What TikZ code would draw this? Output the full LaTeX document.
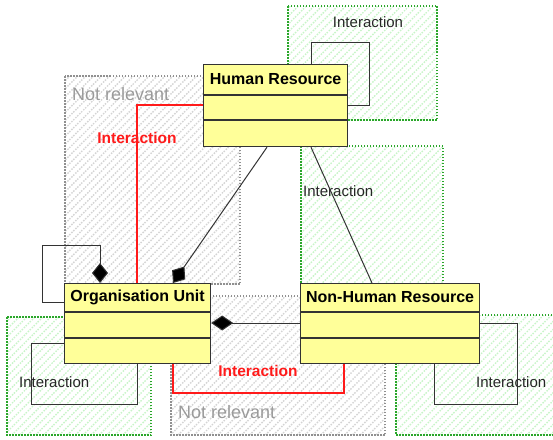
\documentclass[tikz,border=0pt]{standalone}
\usepackage{fontspec}
\setmainfont{Liberation Sans}
\usetikzlibrary{patterns.meta,arrows.meta,calc}
\definecolor{boxfill}{HTML}{FFFF99}
\definecolor{boxline}{HTML}{333333}
\definecolor{grnborder}{HTML}{2AA62A}
\definecolor{grnhatch}{HTML}{C8F4C8}
\definecolor{gryborder}{HTML}{909090}
\definecolor{gryhatch}{HTML}{D4D4D4}
\definecolor{grytext}{HTML}{9A9A9A}
\definecolor{redline}{HTML}{FF1A1A}
\tikzset{
  greenregion/.style={draw=grnborder, line width=1.4pt, dash pattern=on 1.5pt off 1.5pt,
     pattern={Lines[angle=45,distance=5.6pt,line width=1.4pt]}, pattern color=grnhatch},
  grayregion/.style={draw=gryborder, line width=1.2pt, dash pattern=on 1.5pt off 1.5pt,
     pattern={Lines[angle=45,distance=5.6pt,line width=1.4pt]}, pattern color=gryhatch},
  clsbox/.style={draw=boxline, fill=boxfill, line width=1.2pt, rectangle, inner sep=0pt, anchor=north west},
  clstitle/.style={font=\fontsize{16}{19}\selectfont\bfseries, inner sep=0pt, text=black},
  regionlabel/.style={font=\fontsize{15}{18}\selectfont, inner sep=0pt, text=black!85},
  notrel/.style={font=\fontsize{18}{21}\selectfont, inner sep=0pt, text=grytext},
  redlabel/.style={font=\fontsize{15.5}{18}\selectfont\bfseries, inner sep=0pt, text=redline},
  conn/.style={draw=boxline, line width=1pt},
  redconn/.style={draw=redline, line width=1.1pt},
  comp/.style={conn, -{Diamond[length=20pt,width=16pt,fill=black]}},
}
\begin{document}
\begin{tikzpicture}[x=1pt,y=-1pt]
\clip (0,0) rectangle (553,439);
\useasboundingbox (0,0) rectangle (553,439);
% regions
\path[grayregion] (65,76) rectangle (240,284);
\path[greenregion] (288,6) rectangle (437,120);
\path[greenregion] (301,146) rectangle (443,300);
\path[grayregion] (171,296) rectangle (385,435);
\path[greenregion] (7,317) rectangle (151,435);
\path[greenregion] (396,315) rectangle (570,435);
\node[notrel, anchor=west] (nr1) at (72,94) {Not relevant};
\node[notrel, anchor=west] (nr2) at (178,412) {Not relevant};
\node[regionlabel] (ia1) at (368,22) {Interaction};
\node[regionlabel, anchor=west] (ia2) at (303,191) {Interaction};
\node[regionlabel, anchor=west] (ia3) at (19,382) {Interaction};
\node[regionlabel, anchor=west] (ia4) at (476,382) {Interaction};
\node[redlabel] (ri1) at (137,138) {Interaction};
\node[redlabel] (ri2) at (258,371) {Interaction};
% class boxes (shapes first for names)
\node[clsbox, minimum width=144pt, minimum height=82pt] (hr) at (203,64) {};
\node[clsbox, minimum width=146pt, minimum height=80pt] (ou) at (64,283) {};
\node[clsbox, minimum width=179pt, minimum height=80pt] (nhr) at (300,283) {};
% coordinates
\coordinate (la) at (311,42);
\coordinate (lb) at (369,105);
\coordinate (r1) at (137,105);
\coordinate (c1a) at (267,0);
\coordinate (c1b) at (173,0);
\coordinate (c2a) at (311,0);
\coordinate (c2b) at (372,0);
\coordinate (oa) at (42,302);
\coordinate (ob) at (100,245);
\coordinate (oc) at (31,343);
\coordinate (od) at (137,404);
\coordinate (re) at (173,393);
\coordinate (rf) at (344,393);
\coordinate (cm) at (0,323);
\coordinate (na) at (517,323);
\coordinate (nb) at (434,404);
% connectors
\draw[conn] (hr.north -| la) -- (la) -| (lb) -- (lb -| hr.east);
\draw[redconn] (r1 -| hr.west) -- (r1) -- (r1 |- ou.north);
\draw[comp] (hr.south -| c1a) -- (ou.north -| c1b);
\draw[conn] (hr.south -| c2a) -- (nhr.north -| c2b);
\draw[comp] (oa -| ou.west) -- (oa) |- (ob) -- (ob |- ou.north);
\draw[conn] (oc -| ou.west) -- (oc) |- (od) -- (od |- ou.south);
\draw[redconn] (re |- ou.south) -- (re) -- (rf) -- (rf |- nhr.south);
\draw[comp, -{Diamond[length=22pt,width=15pt,fill=black]}] (cm -| nhr.west) -- (cm -| ou.east);
\draw[conn] (na -| nhr.east) -- (na) |- (nb) -- (nb |- nhr.south);
% redraw boxes on top
\node[clsbox, minimum width=144pt, minimum height=82pt] at (203,64) {};
\node[clsbox, minimum width=146pt, minimum height=80pt] at (64,283) {};
\node[clsbox, minimum width=179pt, minimum height=80pt] at (300,283) {};
\draw[draw=boxline, line width=1.2pt] ([yshift=-31pt]hr.north west) -- ([yshift=-31pt]hr.north east);
\draw[draw=boxline, line width=1.2pt] ([yshift=-56pt]hr.north west) -- ([yshift=-56pt]hr.north east);
\draw[draw=boxline, line width=1.2pt] ([yshift=-29pt]ou.north west) -- ([yshift=-29pt]ou.north east);
\draw[draw=boxline, line width=1.2pt] ([yshift=-55pt]ou.north west) -- ([yshift=-55pt]ou.north east);
\draw[draw=boxline, line width=1.2pt] ([yshift=-29pt]nhr.north west) -- ([yshift=-29pt]nhr.north east);
\draw[draw=boxline, line width=1.2pt] ([yshift=-55pt]nhr.north west) -- ([yshift=-55pt]nhr.north east);
\node[clstitle] (hrt) at ($(hr.north)+(0,15.5)$) {Human Resource};
\node[clstitle] (out) at ($(ou.north)+(0,14.5)$) {Organisation Unit};
\node[clstitle] (nhrt) at ($(nhr.north)+(0,14.5)$) {Non-Human Resource};
\end{tikzpicture}
\end{document}
